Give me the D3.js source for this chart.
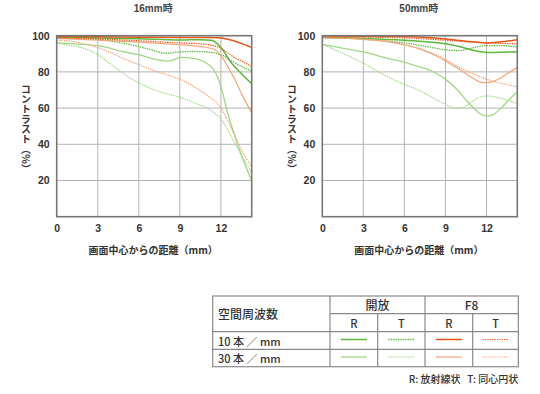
<!DOCTYPE html>
<html>
<head>
<meta charset="utf-8">
<script src="https://cdn.jsdelivr.net/npm/d3@7"></script>
<style>
body { margin: 0; background: #fff; }
svg { display: block; font-family: "Liberation Sans", Arial, "Noto Sans CJK JP", sans-serif; }
</style>
</head>
<body>
<div id="chart"></div>
<script>
"use strict"

// titles and ticks
let chartTitles = ["16mm時", "50mm時"];
let xTickValues = [0, 3, 6, 9, 12];
let yTickValues = [20, 40, 60, 80, 100];
let xMax = 14.25;
let yAxisLabel = "コントラスト（%）";
let xAxisLabel = "画面中心からの距離（mm）";

// 16mm, [distance mm, contrast %]
let wideOpen10R = [[0, 99.2], [3, 98.8], [6, 98.3], [9, 97.6], [10.5, 97.8], [11.3, 97.5], [12, 93.5], [12.7, 85.6], [13.5, 79], [14.25, 73.5]];
let wideOpen10T = [[0, 99], [2, 98.6], [4, 97], [6, 94], [7, 92], [8, 90.3], [9, 91], [10, 91.3], [11, 91], [12, 89.5], [13, 85], [14.25, 80.5]];
let wideOpen30R = [[0, 96], [1, 95.6], [3, 94.5], [5, 91], [6, 89.5], [7, 87.3], [8, 86], [8.5, 86.5], [9, 88], [10, 87.5], [11, 84.5], [11.5, 81], [12, 72], [12.5, 57], [13, 45], [13.5, 34], [14.25, 20]];
let wideOpen30T = [[0, 96], [1, 94.5], [2, 93], [3, 89.5], [4, 84], [5, 78.5], [6, 74], [7, 70.5], [8, 68], [9, 66], [10, 63], [11, 60], [11.5, 57.5], [12, 54], [12.5, 48], [13, 41], [13.5, 34], [14.25, 24.5]];
let wideF810R = [[0, 99.6], [3, 99.4], [6, 99.2], [9, 99], [11, 99], [11.8, 98.8], [12.5, 98], [13.2, 96.5], [14.25, 93.5]];
let wideF810T = [[0, 98.8], [3, 98.2], [6, 97.2], [9, 96], [10.5, 95.5], [11.5, 94.5], [12, 93], [12.5, 90.5], [13, 88], [13.5, 86], [14.25, 83]];
let wideF830R = [[0, 98.5], [3, 97.5], [6, 96.5], [9, 95], [10.5, 94], [11.5, 92.5], [12, 89], [12.5, 83], [13, 76], [13.5, 68], [14.25, 57.5]];
let wideF830T = [[0, 97.5], [1, 97], [2, 95.5], [3, 93.5], [4, 90.5], [5, 87], [6, 84], [7, 81], [8, 78.5], [9, 76], [10, 72], [11, 67], [12, 60], [12.5, 53], [13, 45], [13.5, 37], [14.25, 27.5]];

// 50mm, [distance mm, contrast %]
let teleOpen10R = [[0, 99], [3, 98.5], [6, 97.5], [9, 95.5], [10, 94], [11, 92], [12, 90.7], [13, 90.8], [14.25, 91.2]];
let teleOpen10T = [[0, 99], [2, 98.5], [4, 97.5], [6, 96], [8, 93.5], [9, 92.2], [10, 91.8], [11, 93.3], [12, 94.5], [13, 94.5], [14.25, 93.8]];
let teleOpen30R = [[0, 95.2], [1, 93.8], [3, 91], [5, 87], [6, 85.3], [7, 83], [8, 80.5], [9, 76], [10, 69], [10.5, 64.5], [11, 60.5], [11.5, 57], [12, 55.6], [12.5, 56.5], [13, 59.5], [13.5, 63.5], [14.25, 69]];
let teleOpen30T = [[0, 95.2], [1, 92], [2, 88.5], [3, 84.8], [4, 80.5], [5, 76.5], [6, 73], [7, 70], [8, 66], [9, 62], [9.8, 60], [10.3, 60.5], [11, 64], [11.5, 66], [12, 66.7], [13, 65.5], [14.25, 62.5]];
let teleF810R = [[0, 99.8], [3, 99.7], [6, 99.5], [9, 98.2], [10.5, 97], [12, 96], [13, 96.6], [14.25, 97.8]];
let teleF810T = [[0, 99.3], [3, 99.2], [6, 98.8], [9, 97.5], [11, 96.5], [12, 96.1], [13, 95.8], [14.25, 95.5]];
let teleF830R = [[0, 99], [3, 98], [5, 96.5], [6, 95], [7, 93], [8, 90], [9, 86], [10, 81.5], [11, 76.5], [11.5, 74.5], [12, 74], [12.5, 74.8], [13, 76.5], [13.5, 79], [14.25, 82.5]];
let teleF830T = [[0, 99], [3, 98], [5, 96.5], [6, 95], [7, 93], [8, 90.5], [9, 86.8], [10, 82.5], [11, 79], [12, 76], [13, 73.8], [14.25, 71.8]];

// legend table text
let legendHeader = "空間周波数";
let legendGroups = ["開放", "F8"];
let legendCols = ["R", "T"];
let legendRows = ["10 本 ／ mm", "30 本 ／ mm"];
let legendNote = "R: 放射線状   T: 同心円状";

let green = "#5db83c";
let lightGreen = "#9fd886";
let orange = "#e8561a";
let lightOrange = "#f4a47a";

// drawn in this order, light lines first
let seriesKeys = ["open30T", "open30R", "open10T", "open10R", "f830T", "f830R", "f810T", "f810R"];
let seriesStyles = {
    open10R: { color: green, dash: null, width: 1.5 },
    open10T: { color: green, dash: "1.4,1", width: 1.3 },
    open30R: { color: lightGreen, dash: null, width: 1.3 },
    open30T: { color: lightGreen, dash: "1.4,1", width: 1.2 },
    f810R: { color: orange, dash: null, width: 1.5 },
    f810T: { color: orange, dash: "1.4,1", width: 1.2 },
    f830R: { color: lightOrange, dash: null, width: 1.2 },
    f830T: { color: lightOrange, dash: "1.4,1", width: 1.2 }
};

let wideSeries = {
    open10R: wideOpen10R, open10T: wideOpen10T, open30R: wideOpen30R, open30T: wideOpen30T,
    f810R: wideF810R, f810T: wideF810T, f830R: wideF830R, f830T: wideF830T
};
let teleSeries = {
    open10R: teleOpen10R, open10T: teleOpen10T, open30R: teleOpen30R, open30T: teleOpen30T,
    f810R: teleF810R, f810T: teleF810T, f830R: teleF830R, f830T: teleF830T
};

let svg = d3.select("#chart").append("svg")
    .attr("width", 540)
    .attr("height", 394);

let plotTop = 35.7;
let plotBottom = 216.7;
let plotWidth = 195;

drawPanel(56.7, 26, chartTitles[0], wideSeries);
drawPanel(322.3, 292, chartTitles[1], teleSeries);
drawLegend();

function drawPanel(left, labelX, title, seriesData) {
    let x = d3.scaleLinear()
        .domain([0, xMax])
        .range([left, left + plotWidth]);

    let y = d3.scaleLinear()
        .domain([0, 100])
        .range([plotBottom, plotTop]);

    let g = svg.append("g");

    // grid
    g.selectAll(".vgrid")
        .data(xTickValues.filter(d => d > 0))
        .enter().append("line")
        .attr("x1", d => x(d))
        .attr("x2", d => x(d))
        .attr("y1", plotTop)
        .attr("y2", plotBottom)
        .style("stroke", "#b4b4b4")
        .style("stroke-width", "1px");

    g.selectAll(".hgrid")
        .data(yTickValues.filter(d => d < 100))
        .enter().append("line")
        .attr("x1", left)
        .attr("x2", left + plotWidth)
        .attr("y1", d => y(d))
        .attr("y2", d => y(d))
        .style("stroke", "#b4b4b4")
        .style("stroke-width", "1px");

    // curves
    let lineFunc = d3.line()
        .x(d => x(d[0]))
        .y(d => y(d[1]))
        .curve(d3.curveMonotoneX);

    for (let key of seriesKeys) {
        let st = seriesStyles[key];
        g.append("path")
            .attr("d", lineFunc(seriesData[key]))
            .style("fill", "none")
            .style("stroke", st.color)
            .style("stroke-width", st.width + "px")
            .style("stroke-dasharray", st.dash);
    }

    // frame
    g.append("rect")
        .attr("x", left)
        .attr("y", plotTop)
        .attr("width", plotWidth)
        .attr("height", plotBottom - plotTop)
        .style("fill", "none")
        .style("stroke", "#777")
        .style("stroke-width", "1.6px");

    // axes
    let xAxis = g.append("g")
        .attr("transform", "translate(0," + plotBottom + ")")
        .call(d3.axisBottom(x).tickValues(xTickValues).tickSize(0).tickPadding(8));

    let yAxis = g.append("g")
        .attr("transform", "translate(" + left + ",0)")
        .call(d3.axisLeft(y).tickValues(yTickValues).tickSize(0).tickPadding(7));

    for (let ax of [xAxis, yAxis]) {
        ax.select(".domain").remove();
        ax.selectAll("text")
            .style("font-family", "'Liberation Sans', Arial, sans-serif")
            .style("font-size", "10.5px")
            .style("font-weight", "bold")
            .style("fill", "#333");
    }

    // title
    g.append("text")
        .attr("x", left + plotWidth / 2 - 1)
        .attr("y", 12)
        .attr("text-anchor", "middle")
        .style("font-size", "10px")
        .style("font-weight", "bold")
        .style("fill", "#444")
        .text(title);

    // axis titles
    g.append("text")
        .attr("x", left + plotWidth / 2 - 1)
        .attr("y", 254)
        .attr("text-anchor", "middle")
        .style("font-family", "'Noto Sans CJK JP', sans-serif")
        .style("font-size", "10px")
        .style("font-weight", "bold")
        .style("fill", "#333")
        .text(xAxisLabel);

    g.append("text")
        .attr("x", labelX)
        .attr("y", 129)
        .attr("text-anchor", "middle")
        .style("writing-mode", "vertical-rl")
        .style("font-family", "'Noto Sans CJK JP', sans-serif")
        .style("font-size", "10px")
        .style("font-weight", "bold")
        .style("fill", "#333")
        .text(yAxisLabel);
}

function drawLegend() {
    let tLeft = 212.7, tRight = 518.3;
    let colX = [330, 377.7, 425, 472.7, 518.3];
    let rowY = [296, 313.7, 331.7, 349.3, 366.7];
    let g = svg.append("g");
    let lineStyle = sel => sel.style("stroke", "#8a8a8a").style("stroke-width", "1.2px");

    // outer + horizontal lines
    g.append("rect")
        .attr("x", tLeft).attr("y", rowY[0])
        .attr("width", tRight - tLeft).attr("height", rowY[4] - rowY[0])
        .style("fill", "none").call(lineStyle);
    g.append("line").attr("x1", colX[0]).attr("x2", tRight)
        .attr("y1", rowY[1]).attr("y2", rowY[1]).call(lineStyle);
    for (let i of [2, 3]) {
        g.append("line").attr("x1", tLeft).attr("x2", tRight)
            .attr("y1", rowY[i]).attr("y2", rowY[i]).call(lineStyle);
    }
    // vertical lines
    for (let i of [0, 2]) {
        g.append("line").attr("x1", colX[i]).attr("x2", colX[i])
            .attr("y1", rowY[0]).attr("y2", rowY[4]).call(lineStyle);
    }
    for (let i of [1, 3]) {
        g.append("line").attr("x1", colX[i]).attr("x2", colX[i])
            .attr("y1", rowY[1]).attr("y2", rowY[4]).call(lineStyle);
    }

    let txt = (x, y, s, size, anchor) => g.append("text")
        .attr("x", x).attr("y", y)
        .attr("text-anchor", anchor || "middle")
        .attr("dominant-baseline", "central")
        .style("font-family", "'Noto Sans CJK JP', sans-serif")
        .style("font-size", size + "px")
        .style("font-weight", 500)
        .style("white-space", "pre")
        .style("fill", "#333")
        .text(s);

    txt(218, (rowY[0] + rowY[2]) / 2, legendHeader, 12, "start");
    legendGroups.forEach((s, i) => txt((colX[i * 2] + colX[i * 2 + 2]) / 2, (rowY[0] + rowY[1]) / 2, s, 12));
    for (let i = 0; i < 4; i++) {
        txt((colX[i] + colX[i + 1]) / 2, (rowY[1] + rowY[2]) / 2, legendCols[i % 2], 11);
    }
    legendRows.forEach((s, i) => txt(218, (rowY[i + 2] + rowY[i + 3]) / 2, s, 11, "start"));

    // line samples
    let keyGrid = [["open10R", "open10T", "f810R", "f810T"], ["open30R", "open30T", "f830R", "f830T"]];
    keyGrid.forEach((row, r) => {
        row.forEach((key, c) => {
            let st = seriesStyles[key];
            let cx = (colX[c] + colX[c + 1]) / 2;
            let cy = (rowY[r + 2] + rowY[r + 3]) / 2;
            g.append("line")
                .attr("x1", cx - 13).attr("x2", cx + 13)
                .attr("y1", cy - 1).attr("y2", cy - 1)
                .style("stroke", st.color)
                .style("stroke-width", st.width + "px")
                .style("stroke-dasharray", st.dash);
        });
    });

    txt(tRight, 378, legendNote, 10, "end");
}
</script>
</body>
</html>
